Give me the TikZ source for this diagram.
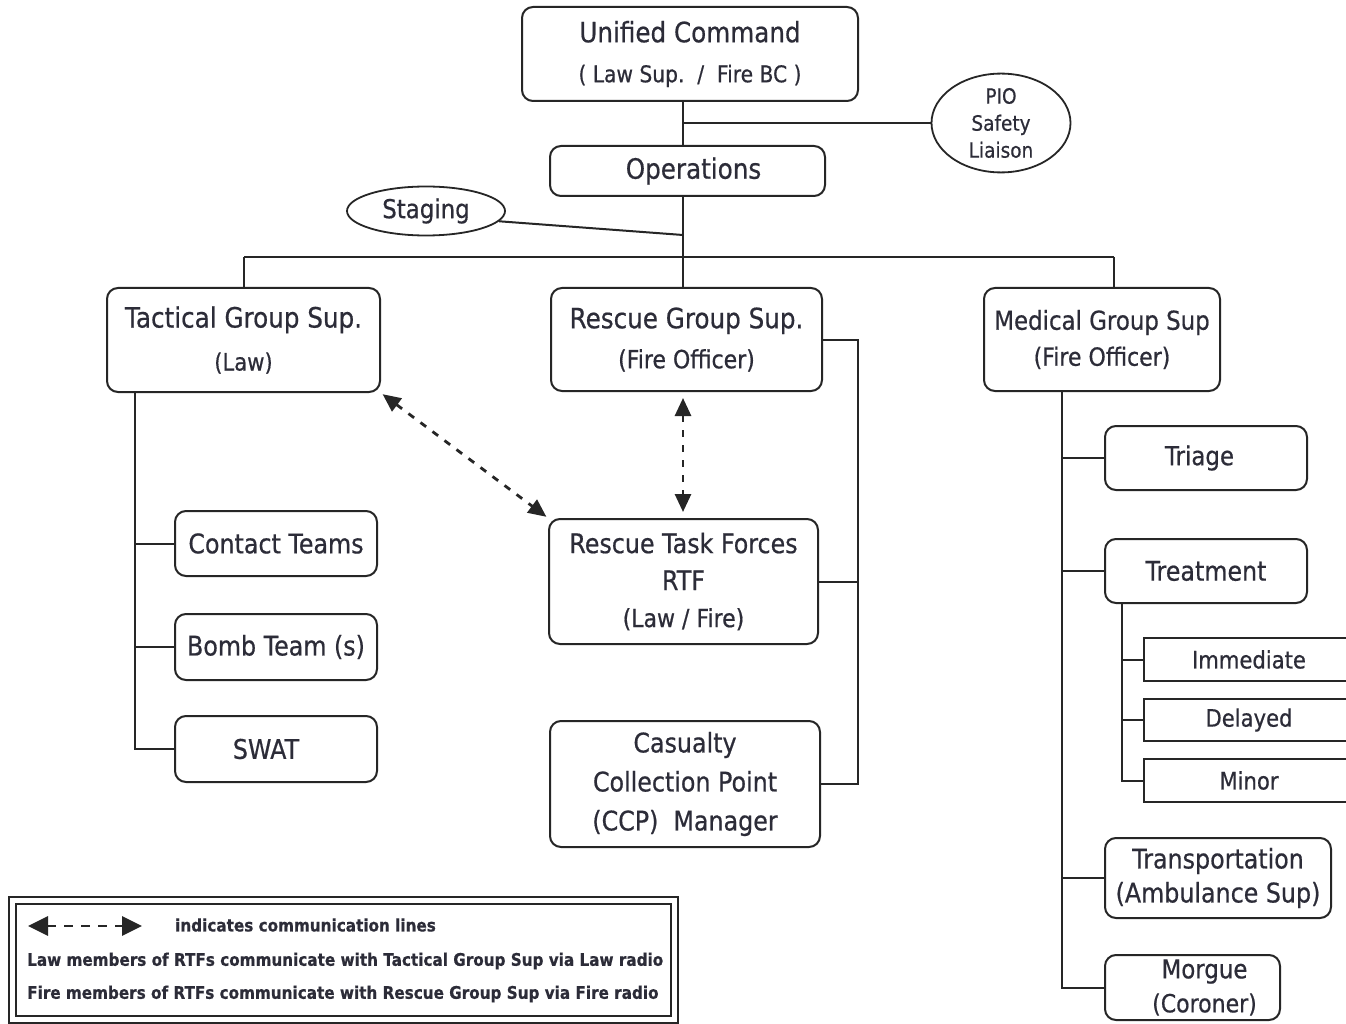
\documentclass[tikz,border=0pt]{standalone}
\usepackage{fontspec}
\setmainfont{DejaVu Sans}[FakeStretch=0.88,FakeBold=0.6]
\usetikzlibrary{shapes.geometric,arrows.meta}
\definecolor{ink}{HTML}{2C2C38}
\definecolor{edge}{HTML}{262626}
\newcommand\fsz[2]{\fontsize{#1}{#2}\selectfont}
\begin{document}
\begin{tikzpicture}[x=1pt,y=-1pt,
  box/.style={draw=edge,line width=2pt,rounded corners=11pt,inner sep=0pt,align=center,text=ink},
  sqbox/.style={draw=edge,line width=2pt,inner sep=0pt,align=center,text=ink},
  oval/.style={draw=edge,line width=1.8pt,ellipse,inner sep=0pt,align=center,text=ink},
  link/.style={draw=edge,line width=2pt},
  comm/.style={draw=edge,line width=2.8pt,dash pattern=on 7pt off 8pt,
    {Triangle[length=18pt,width=16pt]}-{Triangle[length=18pt,width=16pt]}},
  commbig/.style={draw=edge,line width=2.8pt,dash pattern=on 9pt off 8pt,
    {Triangle[length=20pt,width=19pt]}-{Triangle[length=20pt,width=19pt]}},
  legtext/.style={anchor=west,inner sep=0pt,text=ink,font=\bfseries\fsz{17.3}{20}},
]
\useasboundingbox (0,0) rectangle (1346,1024);
\fill[white] (0,0) rectangle (1346,1024);

\coordinate (tx) at (683,0);
\coordinate (busL) at (244,257);
\coordinate (busC) at (683,257);
\coordinate (busR) at (1114,257);
\coordinate (sj) at (683,235);
\coordinate (rr) at (858,0);
\coordinate (tr) at (135,0);
\coordinate (mr) at (1062,0);
\coordinate (sr) at (1122,0);

% top
\node[box,minimum width=336pt,minimum height=94pt,font=\fsz{28}{40}] (uc) at (690,54)
  {Unified Command\\{\fsz{23}{26}( Law Sup.~~/~~Fire BC )}};
\node[oval,minimum width=139pt,minimum height=93pt,font=\fsz{21}{27}] (pio) at (1001,123)
  {PIO\\Safety\\Liaison};
\node[box,minimum width=275pt,minimum height=50pt,font=\fsz{28}{32}] (ops) at (687.5,171) {\hspace*{12pt}Operations};
\node[oval,minimum width=158pt,minimum height=49pt,font=\fsz{26}{30}] (staging) at (426,211) {Staging};

% groups
\node[box,minimum width=273pt,minimum height=104pt,font=\fsz{28}{43}] (tac) at (243.5,340)
  {Tactical Group Sup.\\{\fsz{24}{28}(Law)}};
\node[box,minimum width=271pt,minimum height=103pt,font=\fsz{28}{40}] (res) at (686.5,339.5)
  {Rescue Group Sup.\\{\fsz{25}{28}(Fire Officer)}};
\node[box,minimum width=236pt,minimum height=103pt,font=\fsz{26}{36}] (med) at (1102,339.5)
  {Medical Group Sup\\{\fsz{25}{28}(Fire Officer)}};

% rescue column
\node[box,minimum width=269pt,minimum height=125pt,font=\fsz{27}{37}] (rtf) at (683.5,581.5)
  {Rescue Task Forces\\RTF\\{\fsz{25}{28}(Law / Fire)}};
\node[box,minimum width=270pt,minimum height=126pt,font=\fsz{27}{39}] (ccp) at (685,784)
  {Casualty\\Collection Point\\(CCP)~~Manager};

% tactical column
\node[box,minimum width=202pt,minimum height=65pt,font=\fsz{27}{30}] (ct) at (276,543.5) {Contact Teams};
\node[box,minimum width=202pt,minimum height=66pt,font=\fsz{27}{30}] (bomb) at (276,647) {Bomb Team (s)};
\node[box,minimum width=202pt,minimum height=66pt,font=\fsz{27}{30}] (swat) at (276,749) {SWAT\hspace*{20pt}};

% medical column
\node[box,minimum width=202pt,minimum height=64pt,font=\fsz{26}{30}] (triage) at (1206,458) {Triage\hspace*{13pt}};
\node[box,minimum width=202pt,minimum height=64pt,font=\fsz{27}{30}] (treat) at (1206,571) {Treatment};
\begin{scope}
\clip (0,0) rectangle (1346,1024);
\node[sqbox,minimum width=210pt,minimum height=43pt,font=\fsz{24}{28}] (imm) at (1249,659.5) {Immediate};
\node[sqbox,minimum width=210pt,minimum height=42pt,font=\fsz{24}{28}] (del) at (1249,720) {Delayed};
\node[sqbox,minimum width=210pt,minimum height=43pt,font=\fsz{24}{28}] (minor) at (1249,780.5) {Minor};
\end{scope}
\node[box,minimum width=226pt,minimum height=80pt,font=\fsz{27}{34}] (trans) at (1218,878)
  {Transportation\\(Ambulance Sup)};
\node[box,minimum width=175pt,minimum height=65pt,font=\fsz{26}{34}] (morgue) at (1192.5,987.5)
  {\hspace*{24pt}Morgue\\\hspace*{24pt}{\fsz{25}{28}(Coroner)}};

% connectors
\draw[link] (uc.south -| tx) -- (ops.north -| tx);
\draw[link] (pio.west -| tx) -- (pio.west);
\draw[link] (ops.south -| tx) -- (busC);
\draw[link] (staging.-8) -- (sj);
\draw[link] (busL) -- (busR);
\draw[link] (busL) -- (tac.north -| busL);
\draw[link] (busC) -- (res.north -| busC);
\draw[link] (busR) -- (med.north -| busR);

\draw[link] (res.east) -- (res.east -| rr) |- (ccp.east);
\draw[link] (rtf.east) -- (rtf.east -| rr);

\draw[link] (tac.south -| tr) |- (swat.west);
\draw[link] (ct.west -| tr) -- (ct.west);
\draw[link] (bomb.west -| tr) -- (bomb.west);

\draw[link] (med.south -| mr) |- (morgue.west);
\draw[link] (triage.west -| mr) -- (triage.west);
\draw[link] (treat.west -| mr) -- (treat.west);
\draw[link] (trans.west -| mr) -- (trans.west);

\draw[link] (treat.south -| sr) |- (minor.west);
\draw[link] (imm.west -| sr) -- (imm.west);
\draw[link] (del.west -| sr) -- (del.west);

\draw[comm,shorten <=6pt,shorten >=6pt] (res.south -| tx) -- (rtf.north -| tx);
\draw[comm,shorten <=2pt,shorten >=2pt] (tac.south east) -- (rtf.north west);

% legend
\node[draw=edge,line width=1.8pt,double=white,double distance=4.5pt,minimum width=662pt,minimum height=119pt,inner sep=0pt] (legend) at (343.5,960) {};
\coordinate (la) at (28,926);
\coordinate (lb) at (142,926);
\draw[commbig] (la) -- (lb);
\node[legtext] (l1) at (175,925) {indicates communication lines};
\node[legtext] (l2) at (27,961) {Law members of RTFs communicate with Tactical Group Sup via Law radio};
\node[legtext] (l3) at (27,994) {Fire members of RTFs communicate with Rescue Group Sup via Fire radio};
\end{tikzpicture}
\end{document}
